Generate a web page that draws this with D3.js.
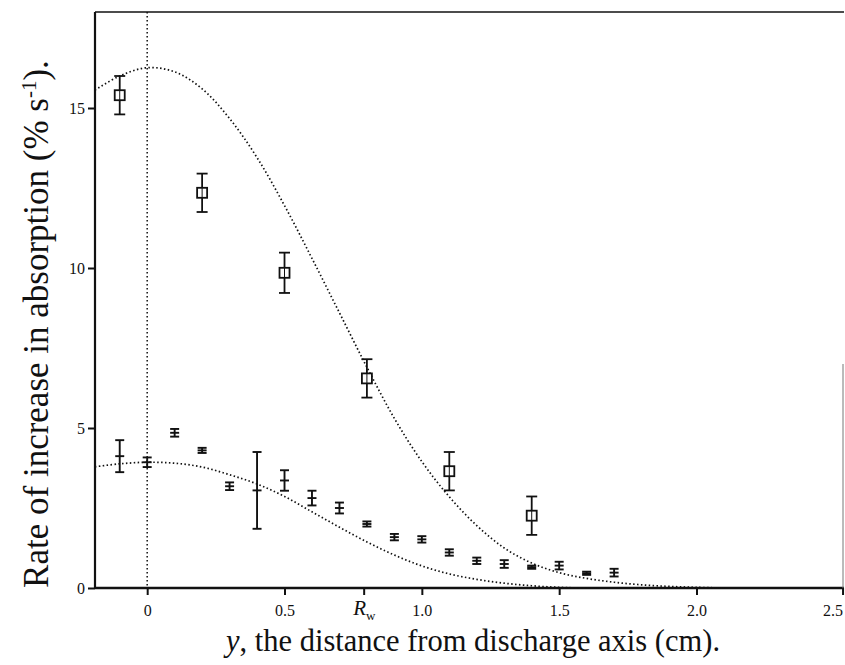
<!DOCTYPE html>
<html>
<head>
<meta charset="utf-8">
<script src="https://cdn.jsdelivr.net/npm/d3@7"></script>
<style>
  body { margin: 0; background: #fff; }
  svg text { font-family: "Liberation Serif", "DejaVu Serif", serif; fill: #111; }
</style>
</head>
<body>
<div id="chart"></div>
<script>
// square markers (upper set): position, value, half error
const SQ_X   = [-0.1, 0.2, 0.5, 0.8, 1.1, 1.4];
const SQ_Y   = [15.4, 12.35, 9.85, 6.55, 3.65, 2.26];
const SQ_ERR = [0.6, 0.6, 0.63, 0.6, 0.6, 0.6];

// plain error-bar markers (lower set)
const CR_X   = [-0.1, 0, 0.1, 0.2, 0.3, 0.4, 0.5, 0.6, 0.7, 0.8, 0.9, 1.0, 1.1, 1.2, 1.3, 1.4, 1.5, 1.6, 1.7];
const CR_Y   = [4.12, 3.93, 4.85, 4.3, 3.18, 3.05, 3.36, 2.81, 2.5, 2.0, 1.59, 1.52, 1.11, 0.85, 0.75, 0.65, 0.7, 0.46, 0.48];
const CR_ERR = [0.5, 0.15, 0.12, 0.08, 0.12, 1.2, 0.32, 0.23, 0.17, 0.08, 0.1, 0.1, 0.1, 0.1, 0.12, 0.05, 0.12, 0.05, 0.12];

// dotted model curves
const UP_X = [-0.19, -0.1, 0, 0.1, 0.2, 0.3, 0.4, 0.5, 0.6, 0.7, 0.8, 0.9, 1.0, 1.1, 1.2, 1.3, 1.4, 1.5, 1.6, 1.7, 1.8, 1.9, 2.0, 2.1];
const UP_Y = [15.56, 16.0, 16.26, 16.13, 15.6, 14.67, 13.45, 11.95, 10.3, 8.6, 6.9, 5.3, 3.95, 2.85, 1.95, 1.25, 0.78, 0.48, 0.3, 0.18, 0.1, 0.05, 0.02, 0];
const LO_X = [-0.19, -0.1, 0, 0.1, 0.2, 0.3, 0.4, 0.5, 0.6, 0.7, 0.8, 0.9, 1.0, 1.1, 1.2, 1.3, 1.4, 1.5, 1.6, 1.8, 2.0];
const LO_Y = [3.79, 3.88, 3.93, 3.9, 3.78, 3.54, 3.25, 2.86, 2.38, 1.9, 1.44, 1.03, 0.69, 0.44, 0.27, 0.15, 0.07, 0.02, 0, 0, 0];

const X_TICKS = [0, 0.5, 1.0, 1.5, 2.0, 2.5];
const X_TICK_LABELS = ["0", "0.5", "1.0", "1.5", "2.0", "2.5"];
const Y_TICKS = [0, 5, 10, 15];
const R_W = 0.79;

const W = 845, H = 665;
const svg = d3.select("#chart").append("svg").attr("width", W).attr("height", H);

// the scanned axis is slightly stretched past 2.0
const x = d3.scaleLinear().domain([-0.19, 2.0, 2.505]).range([95, 696.5, 844]);
const y = d3.scaleLinear().domain([0, 18]).range([588, 12]);

// frame
const frame = svg.append("g").attr("stroke", "#111").attr("fill", "none");
frame.append("line").attr("x1", x(-0.19)).attr("x2", x(-0.19)).attr("y1", y(18)).attr("y2", y(0)).attr("stroke-width", 2.2);
frame.append("line").attr("x1", x(-0.19)).attr("x2", x(2.505)).attr("y1", y(18)).attr("y2", y(18)).attr("stroke-width", 1.6);
frame.append("line").attr("x1", x(-0.19)).attr("x2", x(2.505)).attr("y1", y(0)).attr("y2", y(0)).attr("stroke-width", 2.4);
frame.append("line").attr("x1", x(2.505) - 1).attr("x2", x(2.505) - 1).attr("y1", y(7.0)).attr("y2", y(0)).attr("stroke-width", 1).attr("stroke", "#777");

// axes
const xAxis = svg.append("g").attr("transform", `translate(0,${y(0)})`)
  .call(d3.axisBottom(x).tickValues(X_TICKS).tickSize(7).tickPadding(10)
    .tickFormat((d, i) => X_TICK_LABELS[i]));
const yAxis = svg.append("g").attr("transform", `translate(${x(-0.19)},0)`)
  .call(d3.axisLeft(y).tickValues(Y_TICKS).tickSize(7).tickPadding(3));
[xAxis, yAxis].forEach(g => {
  g.select(".domain").remove();
  g.selectAll(".tick line").attr("stroke", "#111").attr("stroke-width", 2);
  g.selectAll(".tick text").attr("font-size", 16).attr("fill", "#111")
    .attr("font-family", "Liberation Serif");
});
// last label sits against the page edge, as in the scan
xAxis.selectAll(".tick text").filter(d => d === 2.5).attr("text-anchor", "end").attr("dx", 0);

// R_w tick + label
svg.append("line").attr("x1", x(R_W)).attr("x2", x(R_W)).attr("y1", y(0)).attr("y2", y(0) + 7)
  .attr("stroke", "#111").attr("stroke-width", 2);
const rw = svg.append("text").attr("x", x(R_W) - 11).attr("y", 615).attr("font-size", 21).attr("font-style", "italic");
rw.append("tspan").text("R");
rw.append("tspan").attr("font-size", 13).attr("font-style", "normal").attr("dy", 5).text("w");

// vertical dotted line at y = 0
svg.append("line").attr("x1", x(0)).attr("x2", x(0)).attr("y1", y(18)).attr("y2", y(0))
  .attr("stroke", "#111").attr("stroke-width", 1.5).attr("stroke-dasharray", "1.5,2.5");

// model curves
const line = d3.line().x(d => x(d[0])).y(d => y(d[1])).curve(d3.curveCatmullRom);
[[UP_X, UP_Y], [LO_X, LO_Y]].forEach(([xs, ys]) => {
  svg.append("path").attr("d", line(xs.map((v, i) => [v, ys[i]])))
    .attr("fill", "none").attr("stroke", "#111").attr("stroke-width", 1.7)
    .attr("stroke-dasharray", "1.5,2.4");
});

// error bars
function errorBar(g, xv, yv, e, cap){
  const cx = x(xv);
  g.append("line").attr("x1", cx).attr("x2", cx).attr("y1", y(yv + e)).attr("y2", y(yv - e));
  [yv + e, yv - e].forEach(v => g.append("line")
    .attr("x1", cx - cap).attr("x2", cx + cap).attr("y1", y(v)).attr("y2", y(v)));
}

const crosses = svg.append("g").attr("stroke", "#111").attr("stroke-width", 1.9);
CR_X.forEach((xv, i) => {
  errorBar(crosses, xv, CR_Y[i], CR_ERR[i], 4.5);
  crosses.append("line").attr("x1", x(xv) - 4.5).attr("x2", x(xv) + 4.5)
    .attr("y1", y(CR_Y[i])).attr("y2", y(CR_Y[i]));
});

const squares = svg.append("g").attr("stroke", "#111").attr("stroke-width", 1.8);
SQ_X.forEach((xv, i) => {
  errorBar(squares, xv, SQ_Y[i], SQ_ERR[i], 5.5);
  squares.append("rect").attr("x", x(xv) - 5).attr("y", y(SQ_Y[i]) - 5)
    .attr("width", 10).attr("height", 10).attr("fill", "#fff");
  squares.append("line").attr("x1", x(xv)).attr("x2", x(xv))
    .attr("y1", y(SQ_Y[i]) - 5).attr("y2", y(SQ_Y[i]) + 5).attr("stroke-width", 1);
});

// axis titles
const xt = svg.append("text").attr("x", 473).attr("y", 651).attr("text-anchor", "middle").attr("font-size", 30.5);
xt.append("tspan").attr("font-style", "italic").text("y");
xt.append("tspan").text(", the distance from discharge axis (cm).");

const yt = svg.append("text").attr("transform", "translate(48,324) rotate(-90)")
  .attr("text-anchor", "middle").attr("font-size", 35);
yt.append("tspan").text("Rate of increase in absorption (% s");
yt.append("tspan").attr("font-size", 21).attr("dy", -12).text("-1");
yt.append("tspan").attr("dy", 12).text(").");
</script>
</body>
</html>
